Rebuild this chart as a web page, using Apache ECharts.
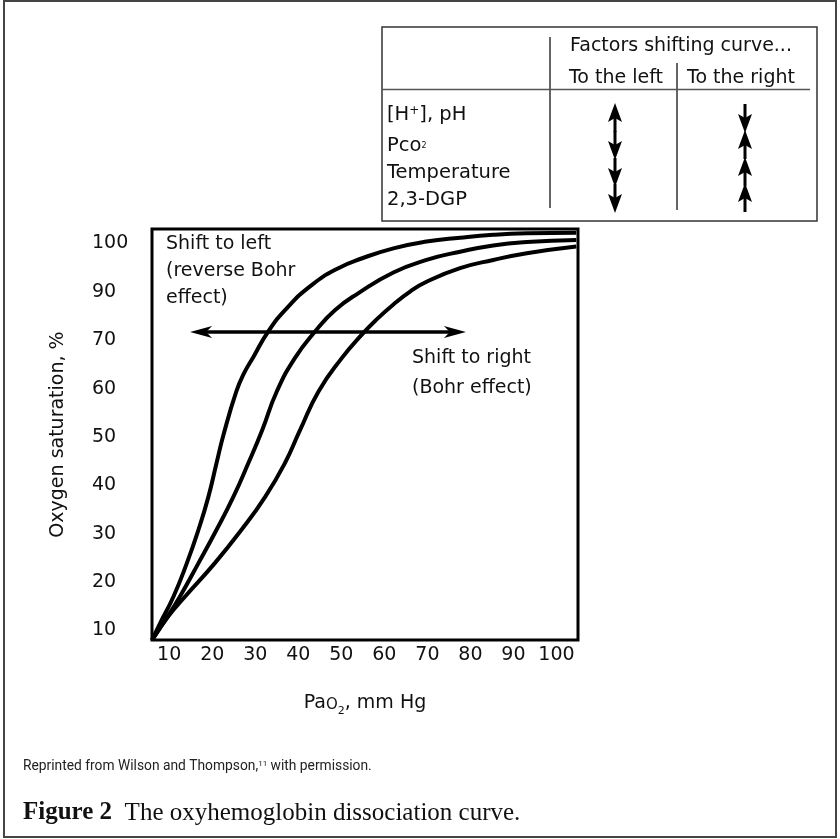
<!DOCTYPE html>
<html>
<head>
<meta charset="utf-8">
<script src="https://cdn.jsdelivr.net/npm/echarts@6/dist/echarts.min.js"></script>
<style>
html, body { margin: 0; padding: 0; background: #fff; }
#chart { width: 840px; height: 839px; }
</style>
</head>
<body>
<div id="chart"></div>
<script>
// axis ticks (the printed y scale skips 80, so labels differ from positions)
const xTicks = [10, 20, 30, 40, 50, 60, 70, 80, 90, 100]
const yTicks = [10, 20, 30, 40, 50, 60, 70, 80, 90]
const yTickLabels = ['10', '20', '30', '40', '50', '60', '70', '90', '100']

// curves: [Pao2, position on saturation scale]
const leftShift = [[6, 8], [7.9, 11.5], [11.0, 17.0], [14.1, 23.9], [16.8, 30.8], [19.1, 37.6], [21.0, 44.6], [22.6, 50.4], [25.6, 59.4], [27.4, 63.2], [29.6, 66.6], [33.0, 71.8], [37.3, 76.6], [43.1, 81.4], [49.3, 84.9], [54.7, 86.9], [62.1, 89.0], [69.8, 90.4], [77.6, 91.2], [85.3, 91.8], [93.1, 92.1], [104.6, 92.2]]
const normalCurve = [[6, 8], [9.0, 12.0], [12.5, 17.0], [16.8, 23.9], [21.0, 30.8], [24.9, 37.6], [28.4, 44.6], [31.6, 51.4], [35.0, 59.4], [39.2, 66.3], [43.9, 71.8], [48.5, 76.2], [53.9, 79.7], [62.1, 84.0], [69.8, 86.6], [77.6, 88.3], [85.3, 89.6], [93.1, 90.3], [104.6, 90.7]]
const rightShift = [[6, 8], [9.7, 12.8], [13.7, 17.0], [20.6, 23.9], [26.8, 30.8], [32.3, 37.6], [36.9, 44.6], [40.4, 51.4], [44.7, 59.4], [50.1, 66.3], [54.7, 71.1], [58.2, 74.3], [62.1, 77.4], [65.9, 80.0], [69.8, 82.1], [77.6, 84.9], [85.3, 86.6], [93.1, 88.0], [104.6, 89.4]]

// double arrow across the curves (line ends; heads sit on them)
const arrowLevel = 71.7
const arrowSpan = [17.4, 76.4]

// factor table
const factors = ['[H{sup|+}], pH', 'Pco{sub|2}', 'Temperature', '2,3-DGP']
const toLeft = ['up', 'down', 'down', 'down']
const toRight = ['down', 'up', 'up', 'up']

const FONT = 'DejaVu Sans'
const INK = '#111'
const HEAD = 'path://M6,0 L12,22 L6,16 L0,22 Z'

function tableArrow(cx, cy, dir) {
    const s = dir === 'up' ? -1 : 1
    return [
        { type: 'line', silent: true, shape: { x1: cx, y1: cy - s * 14, x2: cx, y2: cy }, style: { stroke: '#000', lineWidth: 3 } },
        { type: 'polygon', silent: true, shape: { points: [[cx, cy + s * 15], [cx - 7, cy - s * 4], [cx, cy], [cx + 7, cy - s * 4]] }, style: { fill: '#000' } }
    ]
}

function txt(text, x, y, size, opts) {
    return {
        type: 'text', silent: true,
        style: Object.assign({ text: text, x: x, y: y, fill: INK, font: size + 'px "' + FONT + '"', textAlign: 'left', textVerticalAlign: 'middle' }, opts || {})
    }
}

const graphics = []
// outer frame
graphics.push({ type: 'rect', silent: true, shape: { x: 4, y: 1, width: 832, height: 836 }, style: { fill: 'none', stroke: '#444', lineWidth: 2 } })
// table frame and rules
graphics.push({ type: 'rect', silent: true, shape: { x: 382, y: 27, width: 435, height: 194 }, style: { fill: 'none', stroke: '#333', lineWidth: 1.5 } })
graphics.push({ type: 'line', silent: true, shape: { x1: 550, y1: 37, x2: 550, y2: 208 }, style: { stroke: '#333', lineWidth: 1.5 } })
graphics.push({ type: 'line', silent: true, shape: { x1: 677, y1: 63, x2: 677, y2: 210 }, style: { stroke: '#333', lineWidth: 1.5 } })
graphics.push({ type: 'line', silent: true, shape: { x1: 382, y1: 89.5, x2: 810, y2: 89.5 }, style: { stroke: '#555', lineWidth: 1.5 } })
graphics.push(txt('Factors shifting curve...', 681, 46, 19, { textAlign: 'center' }))
graphics.push(txt('To the left', 616, 78, 19, { textAlign: 'center' }))
graphics.push(txt('To the right', 741, 78, 19, { textAlign: 'center' }))
const rowY = [115, 146, 173, 200]
const arrowRowY = [118, 145, 172, 198]
factors.forEach(function (f, i) {
    graphics.push(txt(f, 387, rowY[i], 19.5, {
        rich: {
            sup: { fontSize: 12, fontFamily: FONT, fill: INK, verticalAlign: 'top', padding: [0, 0, 8, 0] },
            sub: { fontSize: 8, fontFamily: FONT, fill: INK, verticalAlign: 'middle' }
        }
    }))
    tableArrow(615, arrowRowY[i], toLeft[i]).forEach(function (g) { graphics.push(g) })
    tableArrow(745, arrowRowY[i], toRight[i]).forEach(function (g) { graphics.push(g) })
})
// notes inside the plot
graphics.push(txt('Shift to left', 166, 244, 19))
graphics.push(txt('(reverse Bohr', 166, 271, 19))
graphics.push(txt('effect)', 166, 298, 19))
graphics.push(txt('Shift to right', 412, 358, 19))
graphics.push(txt('(Bohr effect)', 412, 388, 19))
// caption
graphics.push({
    type: 'text', silent: true,
    style: {
        text: 'Reprinted from Wilson and Thompson,{sup|11} with permission.', x: 23, y: 767,
        fill: '#222', font: '13.8px Roboto', textVerticalAlign: 'middle',
        rich: { sup: { fontSize: 8, fontFamily: 'Roboto', fill: '#222', verticalAlign: 'top', padding: [0, 0, 6, 0] } }
    }
})
graphics.push({
    type: 'text', silent: true,
    style: {
        text: '{b|Figure 2}  The oxyhemoglobin dissociation curve.', x: 23, y: 813,
        fill: '#111', font: '25px "Liberation Serif"', textVerticalAlign: 'middle',
        rich: { b: { fontSize: 25, fontFamily: 'Liberation Serif', fontWeight: 'bold', fill: '#111' } }
    }
})

const curveStyle = { color: '#000', width: 4 }
function curve(data) {
    return { type: 'line', data: data, smooth: 0.5, showSymbol: false, silent: true, lineStyle: curveStyle, z: 3 }
}

const chart = echarts.init(document.getElementById('chart'))
const option = {
    animation: false,
    backgroundColor: '#fff',
    grid: {
        left: 152, right: 262, top: 229, bottom: 199,
        show: true, borderColor: '#000', borderWidth: 3,
        containLabel: false, outerBoundsMode: 'none'
    },
    xAxis: {
        type: 'value', min: 6, max: 105,
        name: 'Pa{o|O}{s|2}, mm Hg', nameLocation: 'middle', nameGap: 54,
        nameTextStyle: {
            fontFamily: FONT, fontSize: 19, color: INK,
            rich: {
                o: { fontFamily: FONT, fontSize: 15, color: INK, verticalAlign: 'bottom' },
                s: { fontFamily: FONT, fontSize: 11, color: INK, verticalAlign: 'bottom', padding: [0, 0, -4, 0] }
            }
        },
        axisLine: { show: false },
        axisTick: { show: false },
        splitLine: { show: false },
        axisLabel: { customValues: xTicks, margin: 6, fontFamily: FONT, fontSize: 19, color: INK }
    },
    yAxis: {
        type: 'value', min: 8, max: 93,
        name: 'Oxygen saturation, %', nameLocation: 'middle', nameGap: 84,
        nameTextStyle: { fontFamily: FONT, fontSize: 19, color: INK },
        axisLine: { show: false },
        axisTick: { show: false },
        splitLine: { show: false },
        axisLabel: {
            customValues: yTicks, align: 'left', margin: 60,
            fontFamily: FONT, fontSize: 19, color: INK,
            formatter: function (v) { return yTickLabels[yTicks.indexOf(v)] }
        }
    },
    graphic: graphics,
    series: [
        curve(leftShift),
        curve(normalCurve),
        curve(rightShift),
        {
            type: 'line', data: [], silent: true,
            markLine: {
                silent: true, animation: false,
                symbol: [HEAD, HEAD],
                symbolKeepAspect: true,
                symbolSize: 22,
                label: { show: false },
                lineStyle: { color: '#000', width: 3.5, type: 'solid' },
                data: [[{ coord: [arrowSpan[0], arrowLevel] }, { coord: [arrowSpan[1], arrowLevel] }]]
            }
        }
    ]
}
chart.setOption(option)
</script>
</body>
</html>
